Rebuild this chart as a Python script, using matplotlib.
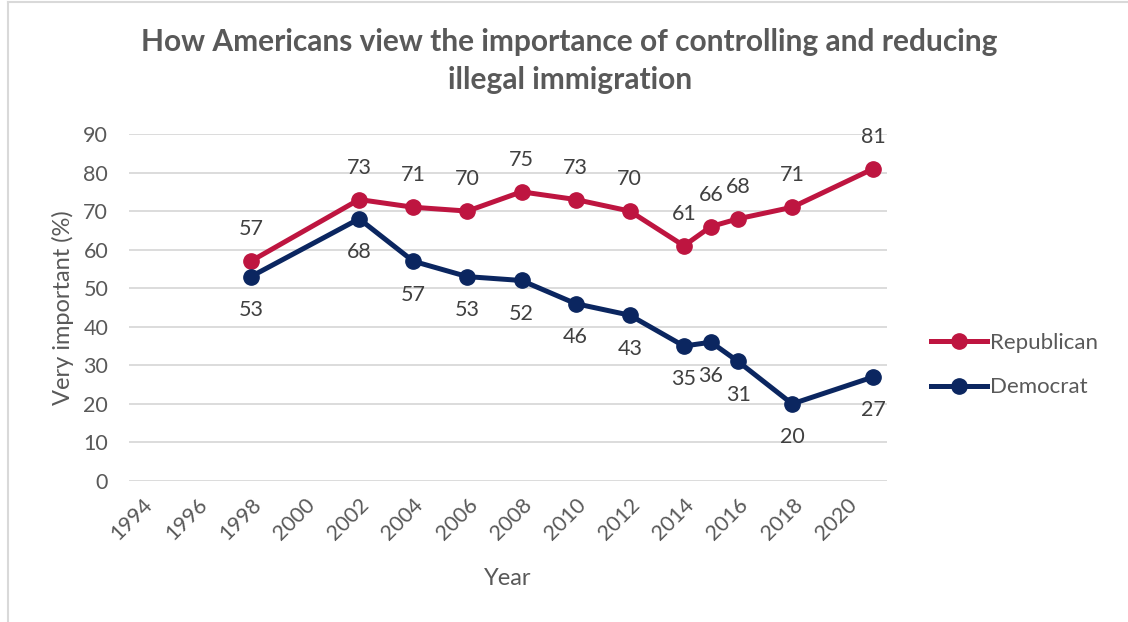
import matplotlib.pyplot as plt
from matplotlib.lines import Line2D

# survey years and share saying it is "very important"
years = [1998, 2002, 2004, 2006, 2008, 2010, 2012, 2014, 2015, 2016, 2018, 2021]
republican = [57, 73, 71, 70, 75, 73, 70, 61, 66, 68, 71, 81]
democrat = [53, 68, 57, 53, 52, 46, 43, 35, 36, 31, 20, 27]
tick_years = list(range(1994, 2021, 2))

red = '#BE1540'
navy = '#0B2660'
grid_gray = '#D9D9D9'
text_gray = '#595959'
label_gray = '#404040'

plt.rcParams['font.family'] = ['Lato', 'DejaVu Sans']

fig = plt.figure(figsize=(11.28, 6.22), dpi=100)
ax = fig.add_axes([0.1144, 0.2267, 0.6719, 0.5579])

ax.plot(years, republican, color=red, lw=3.6, marker='o', ms=11, label='Republican')
ax.plot(years, democrat, color=navy, lw=3.6, marker='o', ms=11, label='Democrat')

for x, y in zip(years, republican):
    ax.annotate(str(y), (x, y), xytext=(0, 23), textcoords='offset points',
                ha='center', va='center', fontsize=15.5, color=label_gray)
for x, y in zip(years, democrat):
    ax.annotate(str(y), (x, y), xytext=(0, -24), textcoords='offset points',
                ha='center', va='center', fontsize=15.5, color=label_gray)

ax.set_xlim(1993.5, 2021.5)
ax.set_ylim(0, 90)
ax.set_yticks(range(0, 91, 10))
ax.set_xticks(tick_years)
ax.set_xticklabels([str(t) for t in tick_years], rotation=45, ha='right',
                   rotation_mode='anchor')
ax.tick_params(axis='both', length=0, labelsize=15.5, labelcolor=text_gray)
ax.tick_params(axis='y', pad=15)
ax.tick_params(axis='x', pad=10)

ax.grid(axis='y', color=grid_gray, lw=1.3)
ax.set_axisbelow(True)
for s in ax.spines.values():
    s.set_visible(False)

ax.set_ylabel('Very important (%)', fontsize=17, color=text_gray, labelpad=7)
ax.set_xlabel('Year', fontsize=17, color=text_gray, labelpad=17)

fig.suptitle('How Americans view the importance of controlling and reducing\nillegal immigration',
             x=0.505, y=0.955, fontsize=21.5, fontweight='bold', color=text_gray,
             linespacing=1.42)

fig.legend(loc='center left', bbox_to_anchor=(0.808, 0.413), frameon=False,
           fontsize=16, handlelength=2.5, handletextpad=0.15, labelspacing=1.1,
           labelcolor=text_gray)

# light frame on the top and left edges
fig.add_artist(Line2D([0.007, 1], [0.996, 0.996], color=grid_gray, lw=1.5))
fig.add_artist(Line2D([0.007, 0.007], [0, 0.996], color=grid_gray, lw=1.5))

fig.savefig('out.png', dpi=100)
